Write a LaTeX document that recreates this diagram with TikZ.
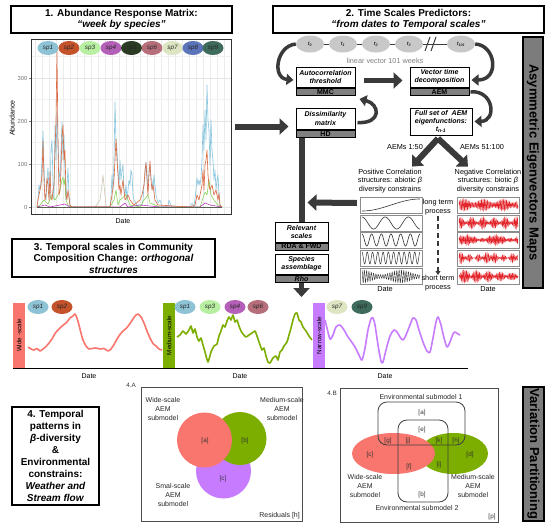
\documentclass[tikz,border=0pt]{standalone}
\usepackage{fontspec}
\setmainfont{Liberation Sans}
\usetikzlibrary{arrows.meta,shapes.geometric,calc}
\newcommand{\fsz}[2]{\fontsize{#1}{#2}\selectfont}
\definecolor{ggred}{HTML}{F8766D}
\definecolor{gggreen}{HTML}{7CAE00}
\definecolor{ggpurple}{HTML}{C77CFF}
\definecolor{darkarrow}{HTML}{3A3A3A}
\definecolor{bandgrey}{HTML}{808080}
\definecolor{barfill}{HTML}{7C7C7C}
\definecolor{tgrey}{HTML}{C8C8C8}
\definecolor{aemred}{HTML}{E3262C}
\definecolor{spA}{HTML}{8EC3D6}
\definecolor{spB}{HTML}{C4522A}
\definecolor{spC}{HTML}{B9EFA3}
\definecolor{spD}{HTML}{B560B8}
\definecolor{spE}{HTML}{2B3A22}
\definecolor{spF}{HTML}{B66F7A}
\definecolor{spG}{HTML}{DDE5C2}
\definecolor{spH}{HTML}{5B74BA}
\definecolor{spI}{HTML}{3E6B5C}
\definecolor{lblue}{HTML}{86C5DE}
\definecolor{lorange}{HTML}{DB6A40}
\definecolor{lgreen}{HTML}{8CD35A}
\definecolor{lpurple}{HTML}{C040C0}
\definecolor{lpale}{HTML}{CFC8B8}
\tikzset{
  titlebox/.style={draw=black,line width=1.4pt,fill=white,align=center,inner sep=0pt,font=\bfseries\fsz{10}{11}},
  spnode/.style={ellipse,minimum width=21pt,minimum height=14pt,inner sep=0pt,font=\itshape\fsz{6.3}{7},text=black!85},
  tnode/.style={ellipse,fill=tgrey,minimum width=28pt,minimum height=17pt,inner sep=0pt,font=\bfseries\itshape\fsz{5.2}{6},text=black!85},
  mbox/.style={draw=black,line width=1pt,fill=white,inner sep=0pt,align=center,font=\bfseries\itshape\fsz{7}{8.3}},
  mband/.style={draw=black,line width=1pt,fill=bandgrey,inner sep=0pt,font=\bfseries\fsz{7}{7}},
  bigarrow/.style={draw=darkarrow,line width=6pt,-{Triangle[length=9pt,width=16pt]}},
  bigline/.style={draw=darkarrow,line width=6pt},
  curvearrow/.style={draw=darkarrow,line width=3.5pt,-{Triangle[length=7pt,width=11pt]}},
  smalltext/.style={font=\fsz{7.3}{8.8},align=center,inner sep=0pt},
  scalebar/.style={minimum width=65pt,minimum height=12pt,inner sep=0pt,font=\fsz{6.3}{7},rotate=90},
  wavebox/.style={draw=black!45,line width=0.4pt,minimum width=62pt,minimum height=16pt,inner sep=0pt},
  sidebar/.style={draw=black,line width=1.3pt,fill=barfill,inner sep=0pt,rotate=-90,font=\bfseries\fsz{13}{14}},
  vennbox/.style={draw=black!70,line width=0.8pt,inner sep=0pt},
  envbox/.style={draw=black!75,line width=0.8pt,rounded corners=9pt,inner sep=0pt},
  vtext/.style={font=\fsz{7}{9},align=center,inner sep=0pt,text=black!85},
  vlab/.style={font=\fsz{6.3}{7},inner sep=0pt,text=black!80},
  series/.style={line width=1.6pt,line join=round},
  chartline/.style={line width=0.6pt,line join=round},
}
\begin{document}
\begin{tikzpicture}[x=1pt,y=-1pt]
\useasboundingbox (0,0) rectangle (550,528);
\fill[white] (0,0) rectangle (550,528);

%% ---------- Panel 1 ----------
\node[titlebox,minimum width=221pt,minimum height=27pt] (title1) at (121.5,19.5) {1. Abundance Response Matrix:\\\textit{“week by species”}};
\begin{scope}
\clip (31,39) rectangle (231,214);
\foreach \gx in {35,42,...,230} \draw[black!8,line width=0.4pt] (\gx,39)--(\gx,214);
\foreach \gy in {78,121,164,207} \draw[black!10,line width=0.5pt] (31,\gy)--(231,\gy);
\foreach \gy in {56.5,99.5,142.5,185.5} \draw[black!6,line width=0.3pt] (31,\gy)--(231,\gy);
\draw[chartline,lpale] (95,207)--(100,200)--(102,185)--(103,175)--(104,185)--(106,207);
\draw[chartline,lblue] (37,207)--(38,200)--(39,185)--(40,190)--(41,182)--(42,160)--(43,131)--(44,165)--(45,195)--(46,200)--(47,180)--(48,168)--(49,190)--(50,198)--(51,150)--(52,140)--(53,185)--(54,200)--(55,125)--(56,160)--(57,112)--(58,140)--(59,170)--(60,182)--(61,150)--(62,122)--(63,160)--(64,135)--(65,175)--(66,200)--(67,185)--(68,168)--(69,195)--(70,205)--(71,207)--(100,207)--(110,207)--(111,198)--(112,175)--(113,190)--(114,160)--(115,102)--(116,140)--(117,150)--(118,170)--(119,185)--(120,160)--(121,180)--(122,170)--(123,165)--(124,190)--(125,195)--(126,185)--(127,200)--(128,190)--(129,180)--(130,185)--(131,170)--(132,175)--(133,195)--(134,200)--(138,207)--(142,205)--(143,200)--(144,185)--(145,175)--(146,162)--(147,175)--(148,190)--(149,170)--(150,165)--(151,178)--(152,180)--(153,190)--(154,175)--(155,185)--(156,195)--(158,203)--(160,200)--(162,207)--(168,207)--(169,200)--(170,203)--(172,207)--(190,207)--(192,203)--(194,207)--(196,190)--(197,178)--(198,185)--(199,180)--(200,185)--(201,178)--(202,160)--(203,125)--(204,150)--(205,110)--(206,140)--(207,85)--(208,120)--(209,130)--(210,165)--(211,120)--(212,150)--(213,160)--(214,180)--(215,170)--(216,190)--(217,180)--(218,175)--(219,195)--(220,205)--(222,207);
\draw[chartline,lgreen] (37,207)--(40,205)--(44,200)--(48,204)--(52,195)--(55,200)--(58,195)--(60,190)--(62,180)--(63,177)--(64,185)--(65,178)--(66,200)--(68,205)--(72,207)--(110,207)--(114,200)--(116,190)--(118,205)--(120,200)--(126,195)--(130,205)--(140,207)--(144,200)--(148,195)--(150,203)--(160,207)--(200,207)--(203,198)--(205,192)--(207,195)--(209,180)--(211,195)--(214,200)--(218,205)--(222,207);
\draw[chartline,lpurple] (37,207)--(45,205)--(50,207)--(65,204)--(70,207)--(120,207)--(125,203)--(128,207)--(140,205)--(160,207)--(200,207)--(205,203)--(210,205)--(222,207);
\draw[chartline,lorange] (37,207)--(38,200)--(39,195)--(40,190)--(41,185)--(42,175)--(43,141)--(44,180)--(45,200)--(46,195)--(47,178)--(48,185)--(49,200)--(50,172)--(51,198)--(52,200)--(53,190)--(54,185)--(55,150)--(56,120)--(57,50)--(58,145)--(59,195)--(60,190)--(61,170)--(62,135)--(63,125)--(64,160)--(65,150)--(66,195)--(67,200)--(68,190)--(70,205)--(72,207)--(110,207)--(112,195)--(114,180)--(115,160)--(116,139)--(117,160)--(118,175)--(119,190)--(120,185)--(121,195)--(123,180)--(125,200)--(128,195)--(130,200)--(134,205)--(140,200)--(142,195)--(144,185)--(145,170)--(146,163)--(147,180)--(148,195)--(149,175)--(150,161)--(151,180)--(152,190)--(153,185)--(155,200)--(158,205)--(190,207)--(195,205)--(197,195)--(199,200)--(201,190)--(202,185)--(203,170)--(204,190)--(205,165)--(206,160)--(207,150)--(208,175)--(209,185)--(210,190)--(212,185)--(214,195)--(216,190)--(218,200)--(219,193)--(220,205)--(222,207);
\draw[chartline,spE!80] (37,207)--(222,207);
\end{scope}
\node[draw=black!80,line width=0.8pt,minimum width=200pt,minimum height=175pt,inner sep=0pt] (chart) at (131,126.5) {};
\foreach \c/\n/\xx in {spA/1/48,spB/2/69,spC/3/90,spD/4/111,spE/5/131.5,spF/6/152,spG/7/172.5,spH/8/193,spI/9/213}
  \node[spnode,fill=\c] (s\n) at (\xx,48) {sp\n};
\foreach \gy/\lab in {78/300,121/200,164/100,207/0}{
  \draw[black!50,line width=0.5pt] (28.5,\gy)--(31,\gy);
  \node[anchor=east,inner sep=0pt,font=\fsz{5.8}{6},text=black!55] at (27.5,\gy) {\lab};}
\node[rotate=90,font=\fsz{7}{8},inner sep=0pt] (ylab) at (12,118) {Abundance};
\node[font=\fsz{7}{8},inner sep=0pt] (xlab) at (123,221) {Date};

%% ---------- Panel 2 ----------
\node[titlebox,minimum width=271pt,minimum height=27pt] (title2) at (408.5,19.5) {2. Time Scales Predictors:\\\textit{“from dates to Temporal scales”}};
\node[tnode] (t0) at (310,44) {t\textsubscript{0}};
\node[tnode] (t1) at (343,44) {t\textsubscript{1}};
\node[tnode] (t2) at (376,44) {t\textsubscript{2}};
\node[tnode] (t3) at (409,44) {t\textsubscript{3}};
\node[tnode] (t101) at (461,44) {t\textsubscript{101}};
\draw[darkarrow,line width=1pt] (t0.east)--(t1.west) (t1.east)--(t2.west) (t2.east)--(t3.west) (t3.east)--(t101.west);
\draw[darkarrow,line width=1pt] (425,51)--(430,37) (431,51)--(436,37);
\node[font=\fsz{7.3}{8},text=black!50,inner sep=0pt] (linvec) at (385,61) {linear vector 101 weeks};

\node[mbox,minimum width=59pt,minimum height=20pt] (mmc) at (325.5,77) {Autocorrelation\\threshold};
\node[mband,minimum width=59pt,minimum height=7.5pt,anchor=north] (mmcb) at (mmc.south) {MMC};
\node[mbox,minimum width=59pt,minimum height=20pt] (aem) at (439.5,77) {Vector time\\decomposition};
\node[mband,minimum width=59pt,minimum height=7.5pt,anchor=north] (aemb) at (aem.south) {AEM};
\node[mbox,minimum width=59pt,minimum height=21pt] (hd) at (325.5,118.5) {Dissimilarity\\matrix};
\node[mband,minimum width=59pt,minimum height=7.5pt,anchor=north] (hdb) at (hd.south) {HD};
\node[mbox,minimum width=62pt,minimum height=27pt] (fullset) at (441,121.5) {Full set of \ AEM\\eigenfunctions:\\t\textsubscript{n-1}};

\draw[curvearrow] (t0.west) .. controls (276,46) and (272,78) .. ($(mmc.west)+(-2,3)$);
\draw[curvearrow] (t101.east) .. controls (496,45) and (500,80) .. ($(aem.east)+(2,3)$);
\draw[bigarrow,line width=5pt] ($(mmc.east)+(8,3.5)$) -- ($(aem.west)+(-7,3.5)$);
\draw[curvearrow] ($(aemb.east)+(1,0)$) .. controls (494,90) and (497,121) .. ($(fullset.east)+(2,0)$);
\draw[curvearrow] ($(hd.east)+(2,4)$) .. controls (382,124) and (380,104) .. ($(mmcb.south east)+(4,3)$);
\draw[bigarrow] ($(chart.east)+(4,0)$) -- ($(hd.west |- chart.east)+(-7,0)$);

\node[smalltext] (pos) at (390,181) {Positive Correlation\\structures: abiotic \textit{β}\\diversity constrains};
\node[smalltext] (neg) at (488,181) {Negative Correlation\\structures: biotic \textit{β}\\diversity constrains};
\coordinate (vapex) at ($(fullset.south)+(-3,3)$);
\draw[bigarrow] (vapex) -- ($(pos.north)+(22,-2)$);
\draw[bigarrow] (vapex) -- ($(neg.north)+(-20,-2)$);
\node[smalltext] (aem1) at (405,147) {AEMs 1:50};
\node[smalltext] (aem2) at (482,147) {AEMs 51:100};

% waves left
\node[wavebox] (w1) at (391,205) {};
\node[wavebox] (w2) at (391,223) {};
\node[wavebox] (w3) at (391,240) {};
\node[wavebox] (w4) at (391,258) {};
\node[wavebox] (w5) at (391,276.5) {};
\draw[black!80,line width=0.6pt] plot[domain=0:1,samples=60] ({362+58*\x},{205+6*cos(180*\x)});
\draw[black!80,line width=0.6pt] plot[domain=0:1,samples=120] ({362+58*\x},{223-6*cos(900*\x)});
\draw[black!80,line width=0.6pt] plot[domain=0:1,samples=200] ({362+58*\x},{240-6*cos(2160*\x)});
\draw[black!80,line width=0.5pt] plot[domain=0:1,samples=300] ({362+58*\x},{258-6*cos(3960*\x)});
\draw[black!80,line width=0.4pt] plot[domain=0:1,samples=400] ({362+58*\x},{276.5-6.3*(0.65+0.35*cos(540*\x))*cos(9000*\x)});
\node[smalltext] (dateL) at (385,289.5) {Date};
% waves right
\node[wavebox] (r1) at (488.5,205) {};
\node[wavebox] (r2) at (488.5,223) {};
\node[wavebox] (r3) at (488.5,240) {};
\node[wavebox] (r4) at (488.5,258) {};
\node[wavebox] (r5) at (488.5,276.5) {};
\draw[aemred,line width=0.45pt] plot[domain=0:1,samples=420] ({459+59*\x},{205-5.5*(0.7+0.3*sin(1080*\x))*sin(14400*\x)});
\draw[aemred,line width=0.45pt] plot[domain=0:1,samples=420] ({459+59*\x},{223-5.5*(0.6+0.4*sin(1900*\x+40))*sin(15000*\x)});
\draw[aemred,line width=0.45pt] plot[domain=0:1,samples=420] ({459+59*\x},{240-5*(0.55+0.3*sin(720*\x)+0.15*sin(3000*\x))*sin(15500*\x)});
\draw[aemred,line width=0.45pt] plot[domain=0:1,samples=420] ({459+59*\x},{258-5.5*(0.5+0.3*sin(2500*\x)+0.2*cos(700*\x))*sin(13800*\x)});
\draw[aemred,line width=0.45pt] plot[domain=0:1,samples=420] ({459+59*\x},{276.5-6.5*(0.12+0.88*abs(sin(900*\x))*(1-0.6*\x))*sin(14800*\x)});
\node[smalltext] (dateR) at (488,289.5) {Date};
\node[smalltext] (lt) at (438,207.5) {long term\\process};
\node[smalltext] (st) at (438,283) {short term\\process};
\draw[darkarrow,line width=1.6pt,dash pattern=on 5pt off 3.5pt,-{Triangle[length=4pt,width=5pt]}] (lt.south) -- (st.north);

% relevant boxes
\node[mbox,minimum width=53pt,minimum height=20pt] (rel) at (301.5,232) {Relevant\\scales};
\node[mband,minimum width=53pt,minimum height=7pt,anchor=north] (relb) at (rel.south) {RDA \& FWD};
\node[mbox,minimum width=53pt,minimum height=20pt] (spa) at (301.5,264) {Species\\assemblage};
\node[mband,minimum width=53pt,minimum height=7pt,anchor=north,font=\bfseries\itshape\fsz{7}{7}] (rhob) at (spa.south) {Rho};
\draw[bigline] (rel.north |- hdb.south) -- (rel.north);
\draw[bigarrow] ($(w1.west)+(-3,-2)$) -- ($(rel.north)+(6,-19)$);
\coordinate (tsrow) at (301.5,297);
\draw[bigarrow,line width=5pt] (rhob.south) -- (tsrow);

\node[sidebar,minimum width=251pt,minimum height=20pt] (asym) at (533,162.5) {Asymmetric Eigenvectors Maps};

%% ---------- Panel 3 ----------
\node[titlebox,minimum width=203pt,minimum height=38pt,font=\bfseries\fsz{10}{11.5}] (title3) at (113.5,258) {3. Temporal scales in Community\\Composition Change: \textit{orthogonal}\\\textit{structures}};
\node[scalebar,fill=ggred] (wide) at (19,335.5) {Wide -scale};
\node[scalebar,fill=gggreen] (medium) at (169,335.5) {Medium-scale};
\node[scalebar,fill=ggpurple] (narrow) at (319,335.5) {Narrow-scale};
\draw[black,line width=0.8pt] (13,368) -- (468,368);
\node[spnode,fill=spA] (w_s1) at (38,307) {sp1};
\node[spnode,fill=spB] (w_s2) at (62,307) {sp2};
\node[spnode,fill=spA] (m_s1) at (185,307) {sp1};
\node[spnode,fill=spC] (m_s3) at (210,307) {sp3};
\node[spnode,fill=spD] (m_s4) at (235,307) {sp4};
\node[spnode,fill=spF] (m_s6) at (258,307) {sp6};
\node[spnode,fill=spG] (n_s7) at (337,307) {sp7};
\node[spnode,fill=spI] (n_s9) at (362,307) {sp9};
\draw[series,ggred] plot[smooth,tension=0.4] coordinates {(28,347)(31,349)(34,350)(37,348.5)(40,351)(43,349)(46,346.5)(49,343)(52,339)(55,333.5)(58,330)(61,327)(64,324.5)(67,322)(70,318)(73,316)(75,314)(77,318)(79,325)(81,333)(83,340)(86,346)(89,349)(92,348.5)(96,348)(100,349)(104,348.5)(108,351)(111,349)(114,344.5)(117,339)(120,334.5)(123,331)(126,328.5)(129,325)(132,320.5)(135,316)(138,314)(141,317)(144,323)(147,331)(150,338)(153,343.5)(156,346)(159,349)(162,350)};
\draw[series,gggreen] plot[smooth,tension=0.3] coordinates {(177,337)(180,335)(183,331)(186,334)(189,330)(191,326)(193,333)(195,329)(197,337)(199,341)(201,338)(203,345)(205,352)(208,362)(211,352)(214,346)(217,344)(219,336)(221,331)(223,325)(225,327)(227,321)(229,317)(231,320)(233,315)(235,322)(237,320)(239,326)(241,331)(243,334)(246,337)(249,335)(252,333)(255,331)(257,336)(259,342)(262,350)(264,348)(266,356)(268,362)(270,363)(273,358)(276,356)(278,360)(280,352)(282,350)(284,346)(287,342)(289,335)(291,328)(293,320)(295,314)(297,313)(299,320)(301,322)(303,327)(306,331)(309,336)(312,340)};
\draw[series,ggpurple] plot[smooth,tension=0.5] coordinates {(325,320)(327,328)(330,339)(333,335)(336,327)(340,325)(344,330)(348,337)(351,341)(355,347)(359,355)(362,360)(365,348)(368,330)(371,319)(373,318)(375,325)(378,345)(381,361)(383,362)(386,350)(390,336)(394,330)(397,332)(400,337)(403,340)(406,335)(410,325)(413,318)(416,320)(419,330)(423,342)(427,351)(430,352)(433,338)(436,322)(438,317)(441,325)(444,338)(447,347)(450,342)(453,334)(455,332)(458,334)(460,335)};
\node[font=\fsz{7}{8},inner sep=0pt] (d1) at (89,376) {Date};
\node[font=\fsz{7}{8},inner sep=0pt] (d2) at (240,376) {Date};
\node[font=\fsz{7}{8},inner sep=0pt] (d3) at (385,376) {Date};

%% ---------- Panel 4 ----------
\node[titlebox,minimum width=87pt,minimum height=98pt,font=\bfseries\fsz{10}{11.9}] (title4) at (55.5,456) {4. Temporal\\patterns in\\\textit{β}-diversity\\\&\\Environmental\\constrains:\\\textit{Weather and}\\\textit{Stream flow}};

% 4A
\node[vennbox,minimum width=161pt,minimum height=134pt] (boxA) at (221.5,454) {};
\node[vlab] (labA) at (131,385) {4.A};
\node[circle,fill=ggpurple,minimum size=55pt,inner sep=0pt] (cpur) at (223.5,471) {};
\node[circle,fill=gggreen,minimum size=53pt,inner sep=0pt] (cgrn) at (240,438.5) {};
\node[circle,fill=ggred,minimum size=55pt,inner sep=0pt] (cred) at (204.5,440) {};
\node[vlab] (la) at (205,441) {[a]};
\node[vlab] (lb) at (245,441) {[b]};
\node[vlab] (lc) at (223,479) {[c]};
\node[vtext] (wideA) at (163,409) {Wide-scale\\AEM\\submodel};
\node[vtext] (medA) at (282,409) {Medium-scale\\AEM\\submodel};
\node[vtext] (smalA) at (173,495) {Smal-scale\\AEM\\submodel};
\node[vtext,anchor=east] (resA) at (300,516) {Residuals [h]};

% 4B
\node[vennbox,minimum width=158pt,minimum height=134pt] (boxB) at (419,455) {};
\node[vlab] (labB) at (332,393) {4.B};
\node[ellipse,fill=gggreen,minimum width=69pt,minimum height=41pt,inner sep=0pt] (egrn) at (453.5,453.5) {};
\node[ellipse,fill=ggred,minimum width=83pt,minimum height=41pt,inner sep=0pt] (ered) at (393.5,453.5) {};
\node[envbox,minimum width=87pt,minimum height=43pt] (env1) at (421.5,423.5) {};
\node[envbox,minimum width=50pt,minimum height=82pt] (env2) at (423,461) {};
\node[vtext] (env1t) at (421,397) {Environmental submodel 1};
\node[vtext] (env2t) at (417,508) {Environmental submodel 2};
\node[vlab] (ba) at (422,413) {[a]};
\node[vlab] (be) at (422,430) {[e]};
\node[vlab] (bg) at (388,441) {[g]};
\node[vlab] (bj) at (408,441) {[j]};
\node[vlab] (bk) at (439,441) {[k]};
\node[vlab] (bh) at (456,441) {[h]};
\node[vlab] (bc) at (370,455) {[c]};
\node[vlab] (bd) at (470,455) {[d]};
\node[vlab] (bf) at (409,467) {[f]};
\node[vlab] (bi) at (439,465) {[i]};
\node[vlab] (bb) at (422,495) {[b]};
\node[vtext] (wideB) at (365,486) {Wide-scale\\AEM\\submodel};
\node[vtext] (medB) at (473,486) {Medium-scale\\AEM\\submodel};
\node[vlab] (bp) at (492,517) {[p]};

\node[sidebar,minimum width=134pt,minimum height=21pt] (varp) at (533.5,454) {Variation Partitioning};
\end{tikzpicture}
\end{document}
